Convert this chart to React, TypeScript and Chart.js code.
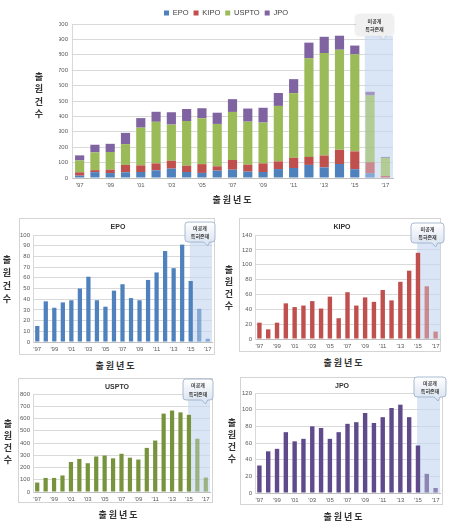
import { useEffect, useRef } from 'react';
import { Chart, registerables } from 'chart.js';

Chart.register(...registerables);

const LATIN = "'Liberation Sans', Arial, sans-serif";
const KO = "'Noto Sans CJK KR', 'Noto Sans', sans-serif";

// ---------- data ----------
const years = ["'97", "'98", "'99", "'00", "'01", "'02", "'03", "'04", "'05", "'06", "'07", "'08", "'09", "'10", "'11", "'12", "'13", "'14", "'15", "'16", "'17"];
const epo = [15, 38, 32, 37, 39, 50, 61, 39, 33, 48, 54, 41, 39, 58, 65, 85, 69, 91, 57, 31, 3];
const kipo = [22, 13, 22, 48, 43, 45, 51, 41, 57, 28, 63, 45, 56, 50, 66, 52, 77, 92, 116, 71, 10];
const uspto = [77, 115, 115, 135, 245, 270, 235, 290, 298, 275, 312, 280, 265, 360, 420, 640, 665, 650, 630, 435, 118];
const jpo = [33, 50, 53, 73, 62, 65, 80, 78, 65, 73, 83, 85, 96, 84, 91, 102, 106, 91, 57, 23, 6];

const seriesNames = ['EPO', 'KIPO', 'USPTO', 'JPO'];
const stackColors = ['#4F81BD', '#C0504D', '#9BBB59', '#8064A2'];
const singleColors = ['#4F81BD', '#C0504D', '#77933C', '#5F4B8B'];
const yTitleText = '출원건수';
const xTitleText = '출 원 년 도';
const calloutLines = ['미공개', '특허존재'];

const GRID = '#d9d9d9';
const TICK = '#595959';
const SHADE = 'rgba(196, 215, 240, 0.62)';
const FADE_FROM = 19;

function faded(hex: string) {
  const n = parseInt(hex.slice(1), 16);
  const r = (n >> 16) & 255, g = (n >> 8) & 255, b = n & 255;
  return `rgba(${r}, ${g}, ${b}, 0.62)`;
}

// ---------- drawing helpers ----------
function drawCallout(ctx: CanvasRenderingContext2D, x: number, y: number, w: number, h: number, style: 'gray' | 'blue') {
  const r = 3;
  const px = x + w * 0.72;
  ctx.save();
  ctx.beginPath();
  ctx.moveTo(x + r, y);
  ctx.lineTo(x + w - r, y);
  ctx.quadraticCurveTo(x + w, y, x + w, y + r);
  ctx.lineTo(x + w, y + h - r);
  ctx.quadraticCurveTo(x + w, y + h, x + w - r, y + h);
  ctx.lineTo(px + 3, y + h);
  ctx.lineTo(px + 1, y + h + 4);
  ctx.lineTo(px - 3, y + h);
  ctx.lineTo(x + r, y + h);
  ctx.quadraticCurveTo(x, y + h, x, y + h - r);
  ctx.lineTo(x, y + r);
  ctx.quadraticCurveTo(x, y, x + r, y);
  ctx.closePath();
  if (style === 'gray') {
    ctx.shadowColor = 'rgba(0,0,0,0.18)';
    ctx.shadowBlur = 3;
    ctx.fillStyle = '#f0f0f0';
    ctx.fill();
    ctx.shadowColor = 'transparent';
  } else {
    const g = ctx.createLinearGradient(0, y, 0, y + h);
    g.addColorStop(0, '#ffffff');
    g.addColorStop(1, '#dde6f2');
    ctx.fillStyle = g;
    ctx.fill();
    ctx.strokeStyle = '#95a9c6';
    ctx.lineWidth = 0.8;
    ctx.stroke();
  }
  ctx.fillStyle = '#3a3a3a';
  ctx.font = `bold 5px ${KO}`;
  ctx.textAlign = 'center';
  ctx.textBaseline = 'middle';
  ctx.fillText(calloutLines[0], x + w / 2, y + h * 0.28);
  ctx.fillText(calloutLines[1], x + w / 2, y + h * 0.7);
  ctx.restore();
}

const decor = {
  id: 'decor',
  beforeDatasetsDraw(chart: any, _args: any, o: any) {
    const { ctx, chartArea: ca, scales } = chart;
    const xs = scales.x;
    const cw = xs.getPixelForValue(1) - xs.getPixelForValue(0);
    const sx = xs.getPixelForValue(o.shadeFrom) - cw * o.shadeOff;
    const by = ca.top + o.cb.dy;
    const sy = by + o.cb.h + o.gap;
    ctx.save();
    ctx.fillStyle = SHADE;
    ctx.fillRect(sx, sy, ca.right - sx, ca.bottom - sy);
    ctx.restore();
  },
  afterDatasetsDraw(chart: any, _args: any, o: any) {
    const { ctx, chartArea: ca } = chart;
    drawCallout(ctx, ca.right + o.cb.dx, ca.top + o.cb.dy, o.cb.w, o.cb.h, o.style);
  },
};

// ---------- chart canvas ----------
type Area = { l: number; t: number; r: number; b: number };

function ChartCanvas({ x, y, w, h, build }: { x: number; y: number; w: number; h: number; build: () => any }) {
  const ref = useRef<HTMLCanvasElement>(null);
  useEffect(() => {
    const chart = new Chart(ref.current as HTMLCanvasElement, build());
    return () => chart.destroy();
  }, []);
  return (
    <canvas
      ref={ref}
      width={w}
      height={h}
      style={{ position: 'absolute', left: x, top: y, width: w, height: h }}
    />
  );
}

const tickFont = { size: 6, family: LATIN };

function xScale(pb: number, stacked: boolean) {
  return {
    stacked,
    grid: { display: false, drawTicks: false },
    border: { display: true, color: '#bfbfbf' },
    ticks: {
      autoSkip: false,
      maxRotation: 0,
      padding: 4,
      font: tickFont,
      color: TICK,
      callback: (_v: any, i: number) => (i % 2 === 0 ? years[i] : ''),
    },
    afterFit: (sc: any) => {
      sc.height = pb;
    },
  };
}

function yScale(max: number, step: number, width: number, stacked: boolean, pad: number) {
  return {
    stacked,
    min: 0,
    max,
    grid: { color: GRID, drawTicks: false, lineWidth: 1 },
    border: { display: true, color: GRID },
    ticks: { stepSize: step, padding: pad, font: tickFont, color: TICK, autoSkip: false },
    afterFit: (sc: any) => {
      sc.width = width;
    },
  };
}

function barColor(base: string) {
  return (c: any) => (c.dataIndex >= FADE_FROM ? faded(base) : base);
}

// ---------- top stacked chart ----------
const TOP_AREA: Area = { l: 72, t: 24, r: 393, b: 178 };

function buildTop() {
  const seriesData = [epo, kipo, uspto, jpo];
  const padLeft = 59;
  return {
    type: 'bar',
    data: {
      labels: years,
      datasets: seriesNames.map((n, i) => ({
        label: n,
        data: seriesData[i],
        backgroundColor: barColor(stackColors[i]),
        borderWidth: 0,
        barPercentage: 0.6,
        categoryPercentage: 1,
      })),
    },
    options: {
      responsive: false,
      animation: false,
      devicePixelRatio: 1,
      layout: { padding: { left: padLeft, right: 461 - TOP_AREA.r, top: 4.25, bottom: 0 } },
      plugins: {
        tooltip: { enabled: false },
        legend: {
          display: true,
          position: 'top',
          maxHeight: TOP_AREA.t - 4.25,
          labels: {
            boxWidth: 5,
            boxHeight: 5,
            padding: 5,
            color: '#404040',
            font: { size: 7.5, family: LATIN },
            generateLabels: (chart: any) =>
              chart.data.datasets.map((d: any, i: number) => ({
                text: d.label,
                fillStyle: stackColors[i],
                strokeStyle: stackColors[i],
                lineWidth: 0,
                hidden: false,
                datasetIndex: i,
                fontColor: '#404040',
              })),
          },
        },
        decor: { shadeFrom: 19, shadeOff: 0.35, cb: { dx: -37, dy: -9, w: 37, h: 20 }, gap: 1, style: 'gray' },
      },
      scales: {
        x: xScale(210 - TOP_AREA.b, true),
        y: yScale(1000, 100, TOP_AREA.l - padLeft, true, 4),
      },
    },
    plugins: [decor],
  };
}

// ---------- small charts ----------
type Sub = {
  idx: number;
  data: number[];
  max: number;
  step: number;
  area: Area;
  box: Area;
  cb: { dx: number; dy: number; w: number; h: number };
  title: [number, number];
  yTitle: [number, number, number];
  xTitle: [number, number];
};

const subs: Sub[] = [
  { idx: 0, data: epo, max: 100, step: 10, area: { l: 33, t: 235, r: 212, b: 342 }, box: { l: 19, t: 218, r: 215, b: 355 }, cb: { dx: -27, dy: -13, w: 30, h: 20 }, title: [118, 226], yTitle: [7, 259, 13], xTitle: [115, 365] },
  { idx: 1, data: kipo, max: 140, step: 20, area: { l: 255, t: 235, r: 440, b: 339 }, box: { l: 239, t: 218, r: 441, b: 352 }, cb: { dx: -29, dy: -12, w: 33, h: 20 }, title: [342, 226], yTitle: [229, 269, 12], xTitle: [343, 362] },
  { idx: 2, data: uspto, max: 800, step: 100, area: { l: 33, t: 394, r: 210, b: 492 }, box: { l: 18, t: 378, r: 213, b: 503 }, cb: { dx: -27, dy: -15, w: 30, h: 21 }, title: [117, 386], yTitle: [8, 423, 12], xTitle: [118, 514] },
  { idx: 3, data: jpo, max: 120, step: 20, area: { l: 255, t: 393, r: 440, b: 493 }, box: { l: 240, t: 377, r: 443, b: 505 }, cb: { dx: -26, dy: -16, w: 32, h: 20 }, title: [342, 385], yTitle: [232, 422, 12], xTitle: [343, 516] },
];

const SUB_PL = 30;
const SUB_PR = 12;
const SUB_PT = 20;
const SUB_PB = 16;

function buildSub(s: Sub) {
  return () => ({
    type: 'bar',
    data: {
      labels: years,
      datasets: [
        {
          label: seriesNames[s.idx],
          data: s.data,
          backgroundColor: barColor(singleColors[s.idx]),
          borderWidth: 0,
          barPercentage: 0.5,
          categoryPercentage: 1,
        },
      ],
    },
    options: {
      responsive: false,
      animation: false,
      devicePixelRatio: 1,
      layout: { padding: { left: 0, right: SUB_PR, top: SUB_PT, bottom: 0 } },
      plugins: {
        tooltip: { enabled: false },
        legend: { display: false },
        decor: { shadeFrom: 18, shadeOff: 0.1, cb: s.cb, gap: -3, style: 'blue' },
      },
      scales: {
        x: xScale(SUB_PB, false),
        y: yScale(s.max, s.step, SUB_PL, false, 3),
      },
    },
    plugins: [decor],
  });
}

// ---------- text helpers ----------
function Label({ x, y, text, size, bold, family }: { x: number; y: number; text: string; size: number; bold?: boolean; family?: string }) {
  return (
    <div
      style={{
        position: 'absolute',
        left: x,
        top: y,
        transform: 'translate(-50%, -50%)',
        whiteSpace: 'nowrap',
        fontFamily: family || KO,
        fontSize: size,
        fontWeight: bold ? 700 : 400,
        color: '#333',
        lineHeight: 1,
      }}
    >
      {text}
    </div>
  );
}

function VTitle({ x, y, gap }: { x: number; y: number; gap: number }) {
  return (
    <>
      {Array.from(yTitleText).map((c, i) => (
        <Label key={i} x={x} y={y + i * gap} text={c} size={9} bold />
      ))}
    </>
  );
}

export default function App() {
  return (
    <div style={{ position: 'absolute', left: 0, top: 0, width: 461, height: 528, background: '#fff', overflow: 'hidden' }}>
      {subs.map((s) => (
        <div
          key={'box' + s.idx}
          style={{
            position: 'absolute',
            left: s.box.l,
            top: s.box.t,
            width: s.box.r - s.box.l,
            height: s.box.b - s.box.t,
            border: '1px solid #d4d4d4',
            boxSizing: 'border-box',
          }}
        />
      ))}
      <ChartCanvas x={0} y={0} w={461} h={210} build={buildTop} />
      {subs.map((s) => (
        <ChartCanvas
          key={'c' + s.idx}
          x={s.area.l - SUB_PL}
          y={s.area.t - SUB_PT}
          w={s.area.r - s.area.l + SUB_PL + SUB_PR}
          h={s.area.b - s.area.t + SUB_PT + SUB_PB}
          build={buildSub(s)}
        />
      ))}
      <VTitle x={39} y={76} gap={12.4} />
      <Label x={232} y={199} text={xTitleText} size={9} bold />
      {subs.map((s) => (
        <div key={'t' + s.idx}>
          <Label x={s.title[0]} y={s.title[1]} text={seriesNames[s.idx]} size={7} bold family={LATIN} />
          <VTitle x={s.yTitle[0]} y={s.yTitle[1]} gap={s.yTitle[2]} />
          <Label x={s.xTitle[0]} y={s.xTitle[1]} text={xTitleText} size={9} bold />
        </div>
      ))}
    </div>
  );
}
